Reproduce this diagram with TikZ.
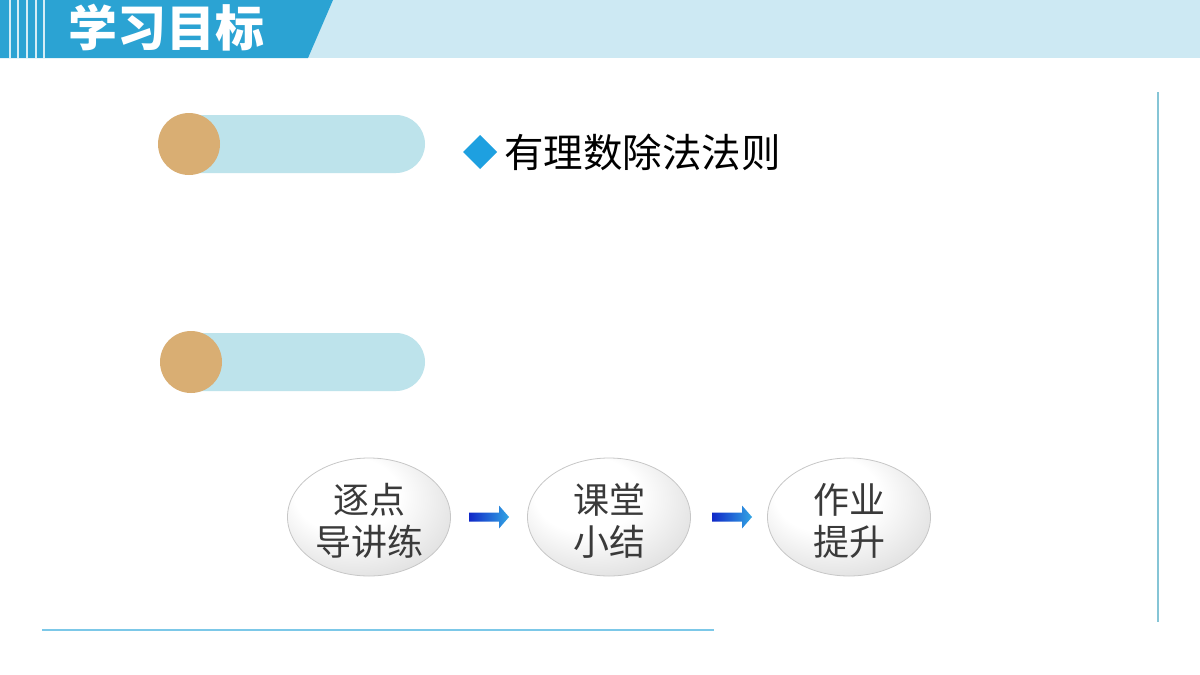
\documentclass[tikz,border=0pt]{standalone}
\usepackage{fontspec}
\newfontfamily\cjk{Noto Sans CJK SC}
\usetikzlibrary{shapes.geometric,calc}
\definecolor{hdark}{RGB}{43,163,211}
\definecolor{hlight}{RGB}{205,233,243}
\definecolor{pillc}{RGB}{189,227,235}
\definecolor{dotc}{RGB}{217,174,115}
\definecolor{diac}{RGB}{30,160,224}
\definecolor{vline}{RGB}{134,197,214}
\definecolor{hline}{RGB}{124,200,232}
\definecolor{etext}{RGB}{58,58,58}
\definecolor{ardark}{RGB}{16,40,200}
\definecolor{arlight}{RGB}{50,165,228}
\pgfdeclareradialshading{ellshade}{\pgfpoint{-10bp}{14bp}}{color(0bp)=(white); color(16bp)=(white); color(50bp)=(black!25)}
\tikzset{
  pill/.style={fill=pillc, rounded corners=29pt},
  dot/.style={circle, fill=dotc, minimum size=62pt, inner sep=0pt},
  ellnode/.style={ellipse, draw=black!22, line width=0.8pt, shading=ellshade, minimum width=163pt, minimum height=118pt, inner sep=0pt},
  elltext/.style={align=center, text=etext, inner sep=0pt, font=\cjk\fontsize{36}{42}\selectfont},
  blockarrow/.style={left color=ardark, right color=arlight},
}
\begin{document}
\begin{tikzpicture}[x=1pt,y=-1pt]
\useasboundingbox (0,0) rectangle (1200,675);
\fill[white] (0,0) rectangle (1200,675);
% header
\fill[hlight] (0,0) rectangle (1200,58);
\fill[hdark] (0,0) -- (333,0) -- (308,58) -- (0,58) -- cycle;
\foreach \xx in {10,18,27,36,44} \fill[white!80!hdark] (\xx-0.8,0) rectangle (\xx+0.8,58);
\node[anchor=west, text=white, font=\cjk\bfseries\fontsize{49}{49}\selectfont, inner sep=0pt] (title) at (68,28) {学习目标};
% pills
\fill[pill] (160,115) -- (425,115) -- (425,173) -- (160,173) -- cycle;
\node[dot] (dot1) at (189,144) {};
\fill[pill] (162,333) -- (425,333) -- (425,391) -- (162,391) -- cycle;
\node[dot] (dot2) at (191,362) {};
% goal text
\fill[diac] (480,135) -- (497,152) -- (480,169) -- (463,152) -- cycle;
\node[anchor=west, font=\cjk\fontsize{39.5}{40}\selectfont, inner sep=0pt] (goal) at (504,152) {有理数除法法则};
% flow
\node[ellnode] (e1) at (369,517) {};
\node[ellnode] (e2) at (609,517) {};
\node[ellnode] (e3) at (849,517) {};
\node[elltext] (t1) at ($(e1.center)+(0,4)$) {逐点\\导讲练};
\node[elltext] (t2) at ($(e2.center)+(0,4)$) {课堂\\小结};
\node[elltext] (t3) at ($(e3.center)+(0,4)$) {作业\\提升};
\coordinate (a1) at ($(e1.east)!0.5!(e2.west)$);
\coordinate (a2) at ($(e2.east)!0.5!(e3.west)+(3,0)$);
\foreach \a in {a1,a2}
  \shade[blockarrow] ($(\a)+(-20,-4.5)$) -- ++(30,0) -- ++(0,-7) -- ++(10,11.5) -- ++(-10,11.5) -- ++(0,-7) -- ++(-30,0) -- cycle;
% frame lines
\coordinate (v1) at (1158,92);
\coordinate (v2) at (1158,622);
\draw[vline, line width=1.6pt] (v1) -- (v2);
\coordinate (h1) at (42,630);
\coordinate (h2) at (714,630);
\draw[hline, line width=1.6pt] (h1) -- (h2);
\end{tikzpicture}
\end{document}
